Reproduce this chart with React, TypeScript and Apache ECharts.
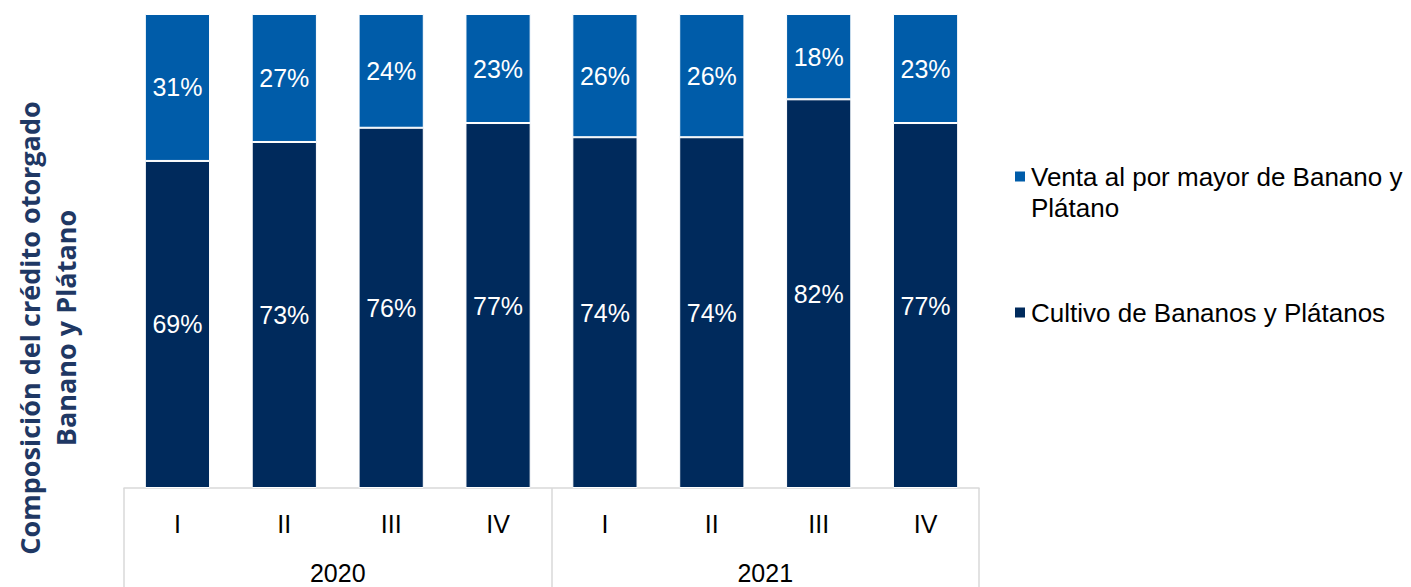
import React, { useEffect, useRef } from "react";
import * as echarts from "echarts";

const quarters = ["I", "II", "III", "IV", "I", "II", "III", "IV"];
const years = ["2020", "2021"];
const cultivo = [69, 73, 76, 77, 74, 74, 82, 77];
const venta = [31, 27, 24, 23, 26, 26, 18, 23];
const nameCultivo = "Cultivo de Bananos y Plátanos";
const nameVenta = "Venta al por mayor de Banano y Plátano";
const yTitle = "Composición del crédito otorgado\nBanano y Plátano";

export default function App() {
  const ref = useRef<HTMLDivElement>(null);
  useEffect(() => {
    const chart = echarts.init(ref.current!, null, { renderer: "svg" });
    const font = "'Liberation Sans', Arial, sans-serif";
    chart.setOption({
      animation: false,
      grid: { left: 124, right: 432, top: 14, bottom: 99 },
      xAxis: [
        {
          type: "category",
          data: quarters,
          position: "bottom",
          axisLine: { show: true, lineStyle: { color: "#D9D9D9", width: 1.5 } },
          axisTick: { show: false },
          axisLabel: { color: "#000", fontSize: 25, fontFamily: font, margin: 23 },
        },
        {
          type: "category",
          data: years,
          position: "bottom",
          axisLine: { show: false },
          axisTick: { show: true, length: 110, lineStyle: { color: "#D9D9D9", width: 1.5 } },
          axisLabel: { color: "#000", fontSize: 25, fontFamily: font, margin: 72 },
        },
      ],
      yAxis: {
        type: "value",
        min: 0,
        max: 100,
        show: false,
      },
      legend: {
        orient: "vertical",
        left: 1008,
        top: 125,
        itemGap: 74,
        itemWidth: 12,
        itemHeight: 12,
        icon: "rect",
        formatter: (n: string) =>
          n === nameVenta ? " \nVenta al por mayor de Banano y\nPlátano" : n,
        textStyle: { color: "#000", fontSize: 26, fontFamily: font, lineHeight: 31 },
        data: [{ name: nameVenta }, { name: nameCultivo }],
      },
      graphic: [
        {
          type: "text",
          x: 47,
          y: 328,
          rotation: Math.PI / 2,
          style: {
            text: yTitle,
            fill: "#1F3864",
            font: "bold 27px 'Open Sans', sans-serif",
            align: "center",
            verticalAlign: "middle",
            lineHeight: 36,
          },
        },
      ],
      series: [
        {
          name: nameCultivo,
          type: "bar",
          stack: "total",
          barWidth: "61%",
          data: cultivo,
          itemStyle: { color: "#002A5C", borderColor: "#fff", borderWidth: 1 },
          label: {
            show: true,
            position: "inside",
            formatter: "{c}%",
            color: "#fff",
            fontSize: 25,
            fontFamily: font,
          },
        },
        {
          name: nameVenta,
          type: "bar",
          stack: "total",
          barWidth: "61%",
          data: venta,
          itemStyle: { color: "#005CA9", borderColor: "#fff", borderWidth: 1 },
          label: {
            show: true,
            position: "inside",
            formatter: "{c}%",
            color: "#fff",
            fontSize: 25,
            fontFamily: font,
          },
        },
      ],
    });
    return () => chart.dispose();
  }, []);
  return <div ref={ref} style={{ width: 1411, height: 587, position: "absolute", left: 0, top: 0 }} />;
}
